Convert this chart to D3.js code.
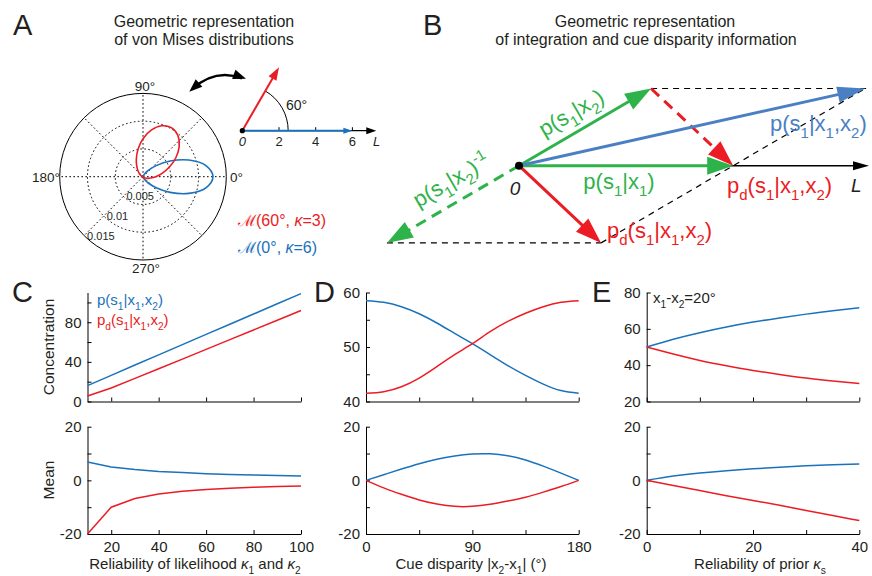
<!DOCTYPE html>
<html><head><meta charset="utf-8">
<script src="https://cdn.jsdelivr.net/npm/d3@7"></script>
<style>
body{margin:0;background:#fff}
svg{display:block}
text{font-family:"Liberation Sans",Arial,Helvetica,sans-serif;fill:#231f20}
</style></head>
<body><svg width="872" height="576"></svg>
<script>
// ---------------- DATA ----------------
// Panel A: polar plot of von Mises densities (angles in degrees)
const polarAngles = [0,10,20,30,40,50,60,70,80,90,100,110,120,130,140,150,160,170,180,190,200,210,220,230,240,250,260,270,280,290,300,310,320,330,340,350];
const vmRed  = [.00228,.00349,.00506,.00683,.00851,.00975,.0102,.00975,.00851,.00683,.00506,.00349,.00228,.00142,.00086,.0005,.0003,.00018,.00012,.00008,.00005,.00004,.00003,.00002,.00002,.00002,.00003,.00004,.00005,.00008,.00012,.00018,.0003,.0005,.00086,.00142];
const vmBlue = [.0126,.0115,.00877,.00564,.0031,.00148,.00063,.00024,.00009,.00003,.00001,0,0,0,0,0,0,0,0,0,0,0,0,0,0,0,0,.00003,.00009,.00024,.00063,.00148,.0031,.00564,.00877,.0115];
const ringValues = [0.005, 0.01, 0.015];
const ringLabels = ["0.005", "0.01", "0.015"];
const spokeAngles = [0,45,90,135,180,225,270,315];
// Panel A: vector representation
const vecLengths = [6, 4];      // blue (kappa), red
const vecAngles  = [0, 60];
const vecTicks   = [2, 4, 6];
// Panel B: vectors (length, angle in degrees)
const bLengths = [7, 5];        // p(s1|x1), p(s1|x2)
const bAngles  = [0, 30.3];
// Panel C
const kappaLik  = [10,20,30,40,50,60,70,80,90,100];
const concIntC  = [16.0,26.4,36.8,47.1,57.4,67.7,78.0,88.3,98.6,108.9];
const concDispC = [5.5,13.6,23.3,33.0,42.8,52.6,62.4,72.2,82.0,91.8];
const meanIntC  = [6.8,5.0,4.0,3.3,2.9,2.5,2.2,2.0,1.8,1.6];
const meanDispC = [-20,-10,-6.8,-5.1,-4.1,-3.4,-2.9,-2.6,-2.3,-2.1];
// Panel D
const disparity = [0,15,30,45,60,75,90,105,120,135,150,165,180];
const concIntD  = [58.5,58.2,57.4,56.1,54.4,52.5,50.6,48.6,46.6,44.8,43.2,42.0,41.5];
const concDispD = [41.5,41.8,42.7,44.3,46.4,48.6,50.6,52.8,54.7,56.2,57.4,58.2,58.5];
const meanIntD  = [0,2.1,4.2,6.2,7.9,9.1,9.8,9.9,9.2,7.6,5.3,2.7,0];
const meanDispD = [0,-2.8,-5.2,-7.3,-8.8,-9.7,-9.7,-8.9,-7.7,-6.3,-4.4,-2.3,0];
// Panel E
const kappaPrior = [0,5,10,15,20,25,30,35,40];
const concIntE   = [50,54.3,57.9,61.0,63.7,66.0,68.1,70.0,71.6];
const concDispE  = [50,46.1,42.6,39.7,37.1,34.9,32.9,31.3,29.9];
const meanIntE   = [0,1.6,2.75,3.6,4.3,4.9,5.4,5.8,6.1];
const meanDispE  = [0,-1.9,-3.8,-5.7,-7.5,-9.3,-11.2,-13.1,-15];

// ---------------- STYLE ----------------
const INK="#231f20", RED="#ec1c24", BLUE="#1a72bb", GREEN="#2eb34a", BBLUE="#4a80c3";
const svg = d3.select("svg");

// rich text: _x / _{..} subscript, ^{..} superscript, $ toggles italic
function rich(parent, str, fs, x, y, color, anchor){
  const t = parent.append("text").attr("x",x).attr("y",y).attr("font-size",fs)
    .attr("text-anchor",anchor||"start").style("fill",color||INK);
  let shift=0, italic=false, buf="", i=0;
  const add=(s,mode)=>{
    const target = mode===1 ? 0.3*fs : mode===2 ? -0.42*fs : 0;
    const ts=t.append("tspan").text(s).attr("dy",target-shift);
    if(mode) ts.attr("font-size",fs*0.68);
    if(italic) ts.style("font-style","italic");
    shift=target;
  };
  while(i<str.length){
    const c=str[i];
    if(c==="_"||c==="^"){
      if(buf){add(buf,0);buf="";}
      let s;
      if(str[i+1]==="{"){const j=str.indexOf("}",i);s=str.slice(i+2,j);i=j+1;}
      else {s=str[i+1];i+=2;}
      add(s,c==="_"?1:2);
    } else if(c==="$"){
      if(buf){add(buf,0);buf="";}
      italic=!italic;i++;
    } else {buf+=c;i++;}
  }
  if(buf) add(buf,0);
  return t;
}
function txt(parent,s,x,y,fs,opts={}){
  const t=parent.append("text").attr("x",x).attr("y",y).attr("font-size",fs).text(s)
    .attr("text-anchor",opts.anchor||"start").style("fill",opts.color||INK);
  if(opts.italic) t.style("font-style","italic");
  return t;
}
function arrow(g,x1,y1,x2,y2,o){
  const head=o.head||26, hw=o.hw||18;
  const dx=x2-x1, dy=y2-y1, L=Math.hypot(dx,dy), ux=dx/L, uy=dy/L;
  const bx=x2-ux*head, by=y2-uy*head;
  const ln=g.append("line").attr("x1",x1).attr("y1",y1)
    .attr("x2",x2-ux*head*0.8).attr("y2",y2-uy*head*0.8)
    .attr("stroke",o.color).attr("stroke-width",o.width);
  if(o.dash) ln.attr("stroke-dasharray",o.dash);
  g.append("path").attr("d",`M${x2},${y2}L${bx-uy*hw/2},${by+ux*hw/2}L${bx+uy*hw/2},${by-ux*hw/2}Z`)
    .attr("fill",o.color);
}
function dline(g,x1,y1,x2,y2,dash){
  g.append("line").attr("x1",x1).attr("y1",y1).attr("x2",x2).attr("y2",y2)
    .attr("stroke","#000").attr("stroke-width",1.2).attr("stroke-dasharray",dash||"6,5");
}

// ---------------- PANEL LETTERS & TITLES ----------------
[["A",13,35],["B",423,35],["C",12,302],["D",314,302],["E",592,302]].forEach(d=>
  txt(svg,d[0],d[1],d[2],29));
txt(svg,"Geometric representation",204,27,16,{anchor:"middle"});
txt(svg,"of von Mises distributions",204,45,16,{anchor:"middle"});
txt(svg,"Geometric representation",645,27,16,{anchor:"middle"});
txt(svg,"of integration and cue disparity information",646,45,16,{anchor:"middle"});

// ---------------- PANEL A: polar ----------------
const cx=143, cy=176.7;
const rS=d3.scaleLinear().domain([0,0.015]).range([0,83.3]);
const pg=svg.append("g").attr("transform",`translate(${cx},${cy})`);
ringValues.forEach((v,i)=>{
  pg.append("circle").attr("r",rS(v)).attr("fill","none").attr("stroke","#000")
    .attr("stroke-width",1).attr("stroke-dasharray",i===2?null:"1.6,2.4");
});
spokeAngles.forEach(a=>{
  const t=a*Math.PI/180;
  pg.append("line").attr("x1",0).attr("y1",0)
    .attr("x2",rS(0.015)*Math.cos(t)).attr("y2",-rS(0.015)*Math.sin(t))
    .attr("stroke","#000").attr("stroke-width",1).attr("stroke-dasharray","1.6,2.4");
});
ringValues.forEach((v,i)=>{
  const r=rS(v);
  txt(pg,ringLabels[i],-r*0.707+3,r*0.707+4,11);
});
txt(pg,"90°",2,-86,13.5,{anchor:"middle"});
txt(pg,"270°",3,96,13.5,{anchor:"middle"});
txt(pg,"0°",87,5,13.5);
txt(pg,"180°",-83,5,13.5,{anchor:"end"});
const radial=d3.lineRadial().curve(d3.curveCatmullRomClosed)
  .angle(d=>Math.PI/2-d[0]*Math.PI/180).radius(d=>rS(d[1]));
pg.append("path").attr("d",radial(polarAngles.map((a,i)=>[a,vmBlue[i]])))
  .attr("fill","none").attr("stroke",BLUE).attr("stroke-width",1.6);
pg.append("path").attr("d",radial(polarAngles.map((a,i)=>[a,vmRed[i]])))
  .attr("fill","none").attr("stroke",RED).attr("stroke-width",1.6);

rich(svg,"ℳ(60°, $κ$=3)",16,238,226,RED);
rich(svg,"ℳ(0°, $κ$=6)",16,238,253,BLUE);

// curved double arrow
const ca=svg.append("g");
ca.append("path").attr("d","M192,89 Q216,68 242,78.5").attr("fill","none").attr("stroke","#000").attr("stroke-width",2.4);
function headAt(tx,ty,fx,fy,len,w){
  const dx=tx-fx,dy=ty-fy,L=Math.hypot(dx,dy),ux=dx/L,uy=dy/L;
  const bx=tx-ux*len,by=ty-uy*len;
  ca.append("path").attr("d",`M${tx},${ty}L${bx-uy*w/2},${by+ux*w/2}L${bx+uy*w/2},${by-ux*w/2}Z`).attr("fill","#000");
}
headAt(189.3,91.7,216,68,13,10);
headAt(246,78.8,216,68,13,10);

// vector diagram
const vo={x:242.3,y:130.7};
const vS=d3.scaleLinear().domain([0,1]).range([0,18.35]);
const vg=svg.append("g");
arrow(vg,vo.x,vo.y,vo.x+vS(7.3),vo.y,{color:"#000",width:1.2,head:10,hw:7});
vecTicks.forEach(t=>{
  vg.append("line").attr("x1",vo.x+vS(t)).attr("x2",vo.x+vS(t)).attr("y1",vo.y).attr("y2",vo.y-3.5)
    .attr("stroke","#000").attr("stroke-width",1);
  txt(vg,String(t),vo.x+vS(t),146,13,{anchor:"middle"});
});
txt(vg,"0",vo.x,146,13,{anchor:"middle",italic:true});
txt(vg,"L",373,146,13,{italic:true});
const arcR=vS(2.5);
vg.append("path").attr("d",`M${vo.x+arcR},${vo.y} A${arcR},${arcR} 0 0 0 ${vo.x+arcR*Math.cos(Math.PI/3)},${vo.y-arcR*Math.sin(Math.PI/3)}`)
  .attr("fill","none").attr("stroke","#000").attr("stroke-width",1);
txt(vg,"60°",286,110,14);
[BLUE,RED].forEach((c,i)=>{
  const t=vecAngles[i]*Math.PI/180;
  arrow(vg,vo.x,vo.y,vo.x+vS(vecLengths[i])*Math.cos(t),vo.y-vS(vecLengths[i])*Math.sin(t),
    {color:c,width:2,head:i===0?9:13,hw:i===0?6:9});
});
vg.append("circle").attr("cx",vo.x).attr("cy",vo.y).attr("r",2.6).attr("fill","#000");

// ---------------- PANEL B ----------------
const bo={x:519,y:165.7};
const bS=d3.scaleLinear().domain([0,1]).range([0,30.6]);
const bg=svg.append("g");
const vec=(i)=>[bLengths[i]*Math.cos(bAngles[i]*Math.PI/180), bLengths[i]*Math.sin(bAngles[i]*Math.PI/180)];
const px=(u)=>[bo.x+bS(u[0]), bo.y-bS(u[1])];
const v1=vec(0), v2=vec(1);
const P1=px(v1), P2=px(v2), S=px([v1[0]+v2[0],v1[1]+v2[1]]), Dd=px([v1[0]-v2[0],v1[1]-v2[1]]), N=px([-v2[0],-v2[1]]);
dline(bg,P2[0],P2[1],S[0]+4,S[1]);
dline(bg,N[0],N[1],Dd[0],Dd[1]);
dline(bg,Dd[0],Dd[1],S[0],S[1]);
arrow(bg,bo.x,bo.y,869,bo.y,{color:"#000",width:1.4,head:16,hw:9});
arrow(bg,bo.x,bo.y,P1[0],P1[1],{color:GREEN,width:3});
arrow(bg,bo.x,bo.y,P2[0],P2[1],{color:GREEN,width:3});
arrow(bg,bo.x,bo.y,N[0],N[1],{color:GREEN,width:3,dash:"11,7"});
arrow(bg,P2[0],P2[1],P1[0],P1[1],{color:RED,width:3,dash:"11,7"});
arrow(bg,bo.x,bo.y,Dd[0],Dd[1],{color:RED,width:3});
arrow(bg,bo.x,bo.y,S[0],S[1],{color:BBLUE,width:3,head:28,hw:16});
bg.append("circle").attr("cx",bo.x).attr("cy",bo.y).attr("r",4).attr("fill","#000");
txt(bg,"0",515,195,19,{anchor:"middle",italic:true});
txt(bg,"L",851,192,19,{italic:true});
rich(bg,"p(s_1|x_1)",22,619,189,GREEN,"middle");
rich(bg,"p_d(s_1|x_1,x_2)",22,727,193,RED);
rich(bg,"p_d(s_1|x_1,x_2)",22,607,238,RED);
rich(bg,"p(s_1|x_1,x_2)",22,770,131,BBLUE);
const rot=-bAngles[1];
{
  const g1=bg.append("g").attr("transform",`translate(${bo.x+62},${bo.y-36}) rotate(${rot})`);
  rich(g1,"p(s_1|x_2)",22,0,-12,GREEN,"middle");
  const g2=bg.append("g").attr("transform",`translate(${bo.x-57},${bo.y+33}) rotate(${rot})`);
  rich(g2,"p(s_1|x_2)^{-1}",22,0,-14,GREEN,"middle");
}

// ---------------- PANELS C, D, E ----------------
function panel(cfg){
  const x=d3.scaleLinear().domain(cfg.xd).range([cfg.x0,cfg.x1]);
  const y=d3.scaleLinear().domain(cfg.yd).range([cfg.yb,cfg.yt]);
  const g=svg.append("g");
  const xa=d3.axisBottom(x).tickValues(cfg.xt).tickSizeInner(-4).tickSizeOuter(0).tickPadding(7)
    .tickFormat(d=>cfg.showX && cfg.xl.includes(d)?String(d):"");
  const ya=d3.axisLeft(y).tickValues(cfg.yt_.concat(cfg.ym||[])).tickSizeInner(-4).tickSizeOuter(0).tickPadding(6)
    .tickFormat(d=>cfg.yt_.includes(d)?String(d):"");
  const gx=g.append("g").attr("transform",`translate(0,${cfg.yb})`).call(xa);
  const gy=g.append("g").attr("transform",`translate(${cfg.x0},0)`).call(ya);
  [gx,gy].forEach(a=>{
    a.selectAll("path.domain").attr("stroke","#000").attr("stroke-width",1);
    a.selectAll(".tick line").attr("stroke","#000");
    a.selectAll(".tick text").attr("font-size",15).attr("font-family",null).style("fill",INK);
    a.attr("font-family",null).attr("font-size",null);
  });
  const line=d3.line().x(d=>x(d[0])).y(d=>y(d[1])).curve(cfg.curve||d3.curveLinear);
  cfg.series.forEach(s=>{
    g.append("path").attr("d",line(cfg.xs.map((v,i)=>[v,s.v[i]])))
      .attr("fill","none").attr("stroke",s.c).attr("stroke-width",1.5);
  });
  return g;
}
const TOP={yt:292.5,yb:401.5}, BOT={yt:426.7,yb:534};
const cols=[
  {x0:87.5,x1:301,xd:[10,100],xt:[20,40,60,80,100],xl:[20,40,60,80,100],xs:kappaLik,curve:d3.curveLinear,
   top:{yd:[0,110],yt_:[0,40,80],ym:[20,60,100],s:[concIntC,concDispC]},
   bot:{s:[meanIntC,meanDispC]}},
  {x0:366,x1:578.7,xd:[0,180],xt:[0,45,90,135,180],xl:[0,90,180],xs:disparity,curve:d3.curveNatural,
   top:{yd:[40,60],yt_:[40,50,60],ym:[45,55],s:[concIntD,concDispD]},
   bot:{s:[meanIntD,meanDispD]}},
  {x0:646.7,x1:859.3,xd:[0,40],xt:[0,10,20,30,40],xl:[0,20,40],xs:kappaPrior,curve:d3.curveNatural,
   top:{yd:[20,80],yt_:[20,40,60,80],ym:[],s:[concIntE,concDispE]},
   bot:{s:[meanIntE,meanDispE]}}
];
cols.forEach(c=>{
  panel({x0:c.x0,x1:c.x1,xd:c.xd,xt:c.xt,xl:c.xl,xs:c.xs,showX:false,curve:c.curve,
    yd:c.top.yd,yt_:c.top.yt_,ym:c.top.ym,yt:TOP.yt,yb:TOP.yb,
    series:[{v:c.top.s[0],c:BLUE},{v:c.top.s[1],c:RED}]});
  panel({x0:c.x0,x1:c.x1,xd:c.xd,xt:c.xt,xl:c.xl,xs:c.xs,showX:true,curve:c.curve,
    yd:[-20,20],yt_:[-20,0,20],ym:[-10,10],yt:BOT.yt,yb:BOT.yb,
    series:[{v:c.bot.s[0],c:BLUE},{v:c.bot.s[1],c:RED}]});
});
// axis titles
txt(svg,"Concentration",0,0,15.5,{anchor:"middle"}).attr("transform","translate(54,347) rotate(-90)");
txt(svg,"Mean",0,0,15.5,{anchor:"middle"}).attr("transform","translate(54,480) rotate(-90)");
rich(svg,"Reliability of likelihood $κ$_1 and $κ$_2",15,195,569,INK,"middle");
rich(svg,"Cue disparity |x_2-x_1| (°)",15,471,569,INK,"middle");
rich(svg,"Reliability of prior $κ$_s",15,760,569,INK,"middle");
// legends / annotation
rich(svg,"p(s_1|x_1,x_2)",15,97,305,BLUE);
rich(svg,"p_d(s_1|x_1,x_2)",15,97,325,RED);
rich(svg,"x_1-x_2=20°",15,653,303,INK);
</script></body></html>
